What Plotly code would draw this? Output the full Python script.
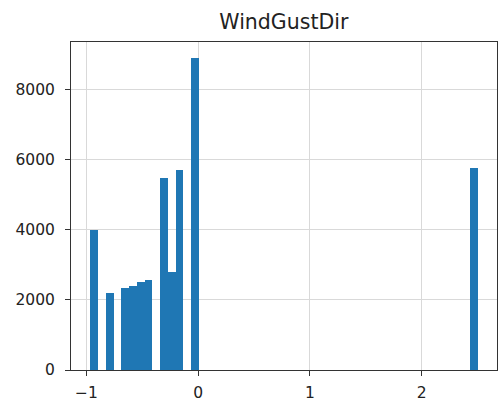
import plotly.graph_objects as go

# Histogram (50 bins) of WindGustDir
bin_start = -0.964
bin_end = 2.5
n_bins = 50
bin_index = [0, 2, 4, 5, 6, 7, 9, 10, 11, 13, 49]
counts = [3990, 2200, 2330, 2390, 2510, 2570, 5470, 2790, 5720, 8920, 5760]
x_ticks = [-1, 0, 1, 2]
y_ticks = [0, 2000, 4000, 6000, 8000]

w = (bin_end - bin_start) / n_bins
centers = [bin_start + (i + 0.5) * w for i in bin_index]

span = bin_end - bin_start
x_range = [bin_start - 0.05 * span, bin_end + 0.05 * span]
y_range = [0, max(counts) * 1.05]

fig = go.Figure(go.Bar(
    x=centers, y=counts, width=[w] * len(centers),
    marker=dict(color="#1f77b4", line=dict(width=0)),
))

axis_common = dict(
    showgrid=True, gridcolor="#d9d9d9", gridwidth=1,
    showline=True, linecolor="#333", linewidth=1, mirror=True,
    ticks="outside", ticklen=5, tickcolor="#333",
    tickfont=dict(family="DejaVu Sans", size=15.5, color="#222"),
    zeroline=False,
)

fig.update_layout(
    width=498, height=405,
    margin=dict(l=71, r=1, t=42, b=35),
    paper_bgcolor="white", plot_bgcolor="white",
    title=dict(text="WindGustDir", x=0.57, xanchor="center", y=0.945, yanchor="middle",
               font=dict(family="DejaVu Sans", size=20.5, color="#222")),
    bargap=0, showlegend=False,
    xaxis=dict(range=x_range, tickvals=x_ticks, ticklabelstandoff=3, **axis_common),
    yaxis=dict(range=y_range, tickvals=y_ticks, ticklabelstandoff=7, **axis_common),
)

fig.write_html("out.html")
